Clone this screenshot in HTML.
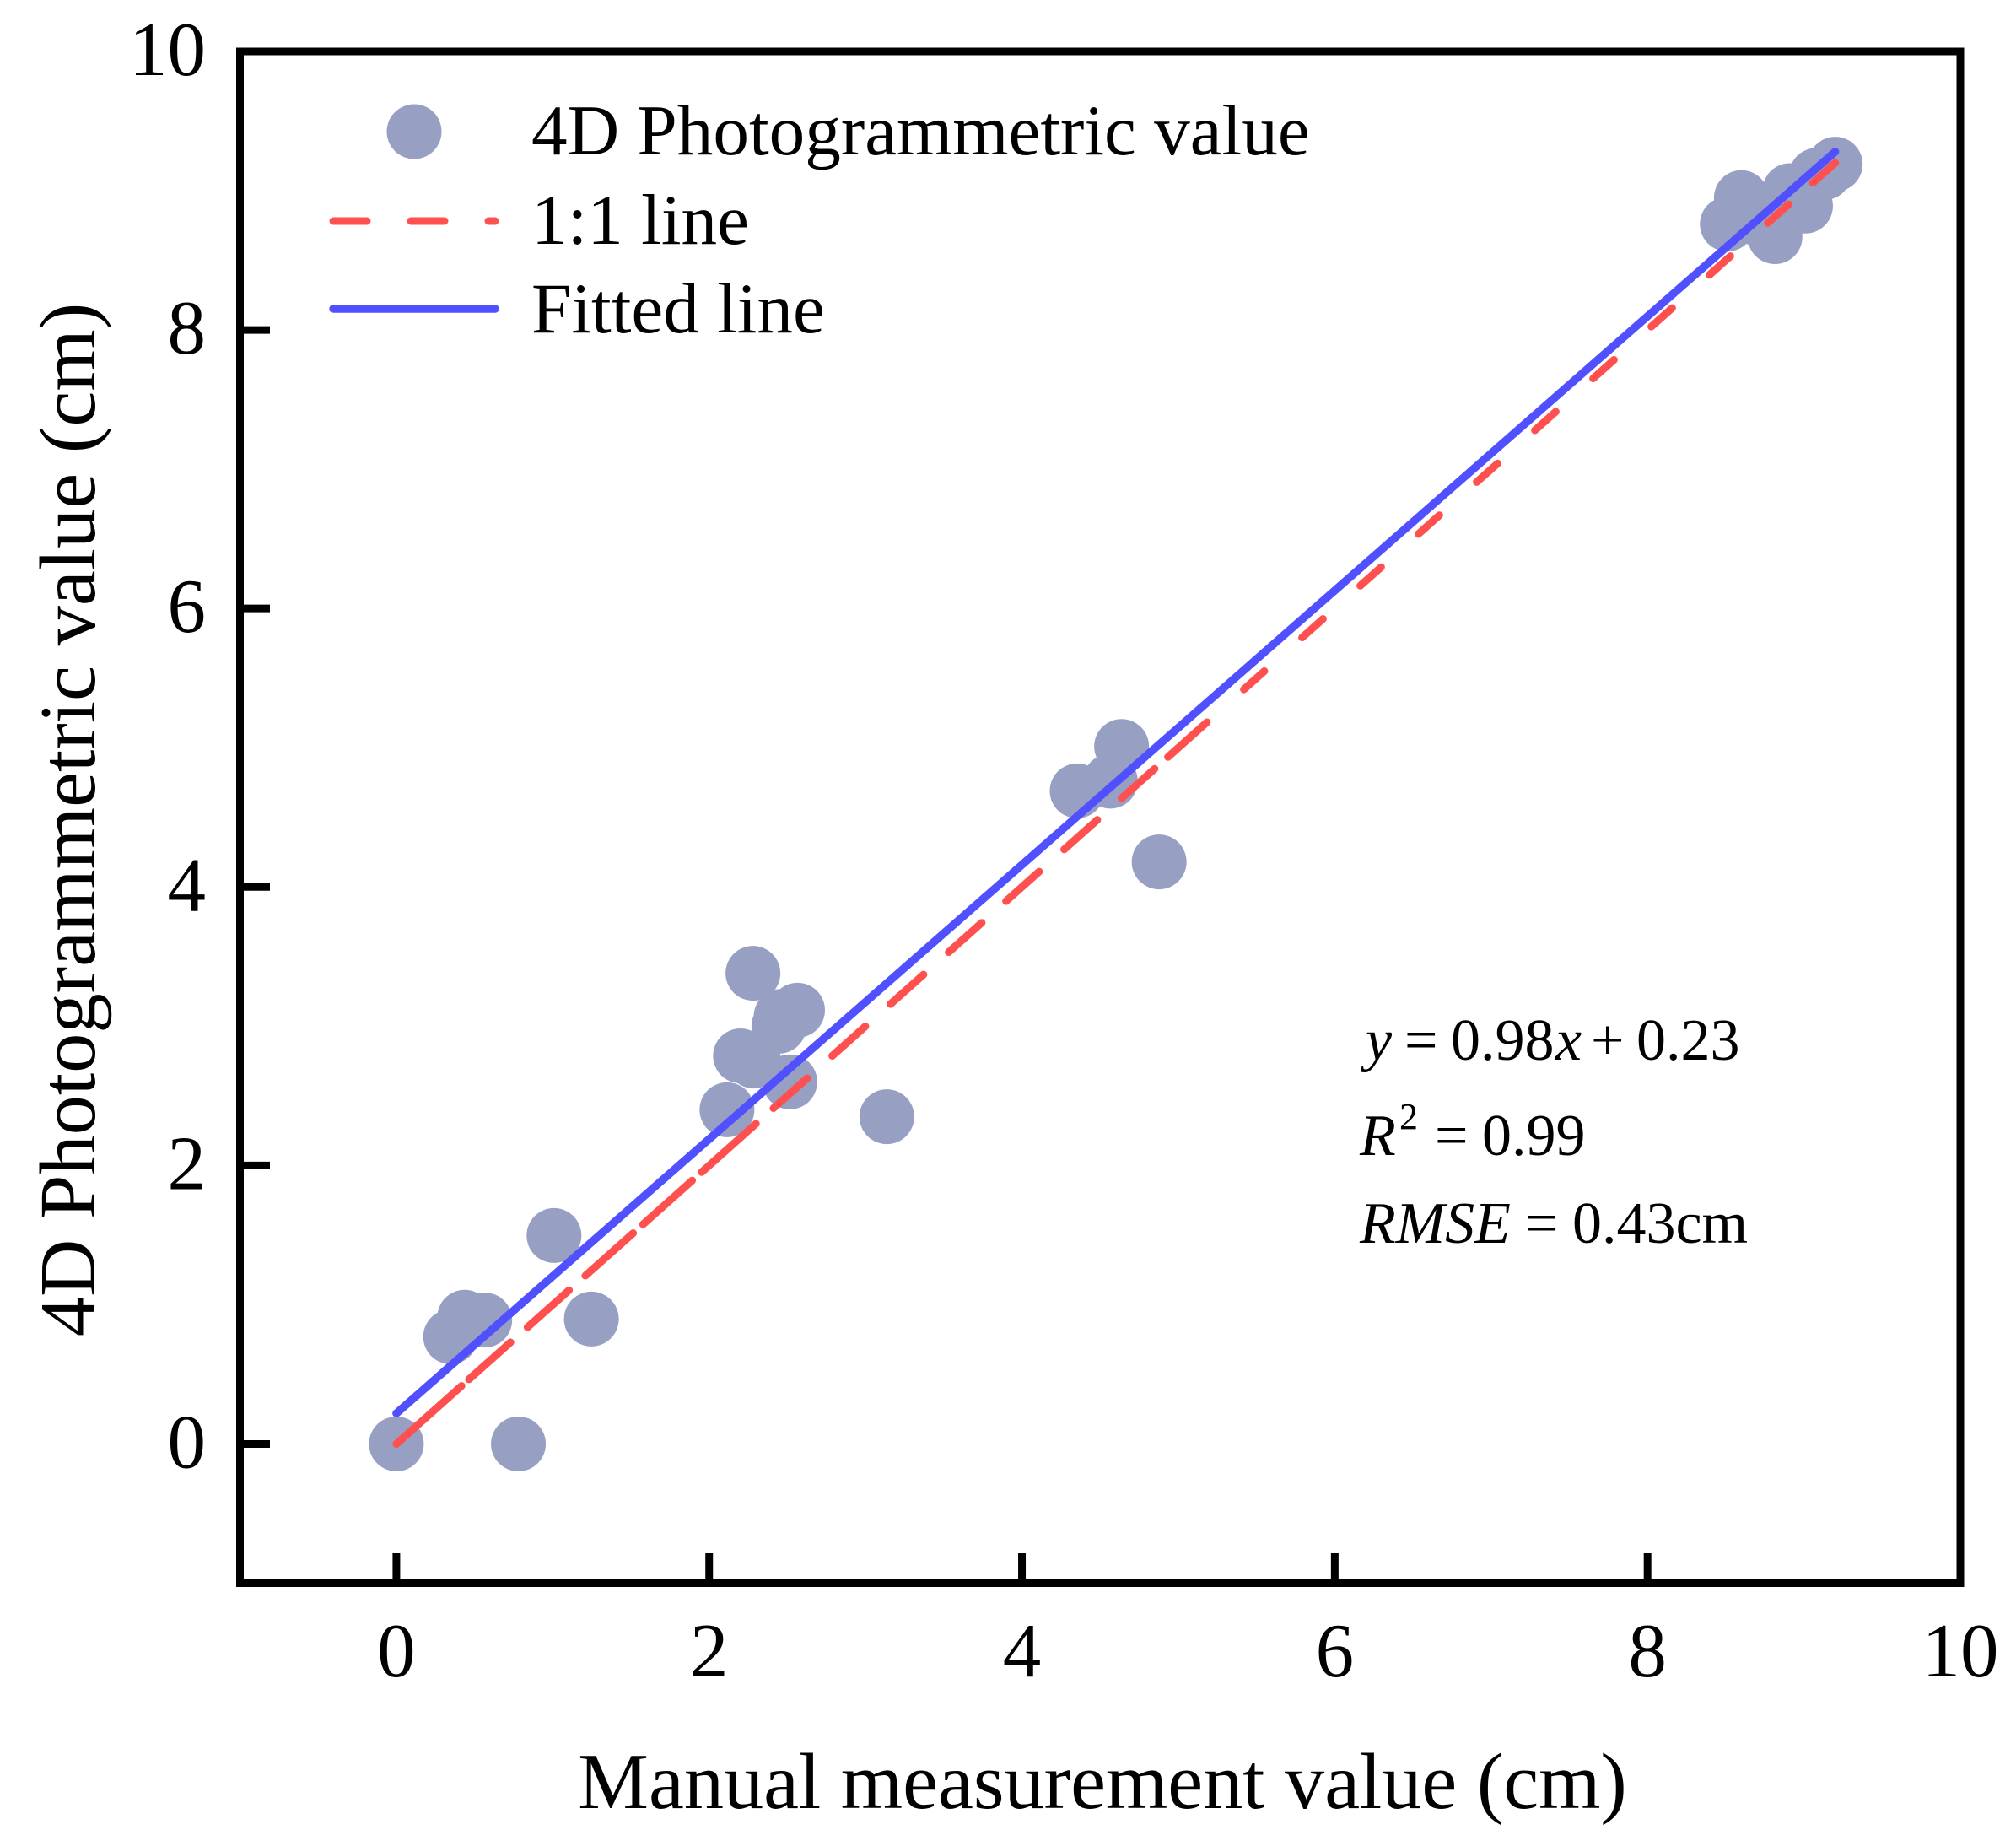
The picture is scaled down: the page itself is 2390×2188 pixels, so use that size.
<!DOCTYPE html>
<html lang="en">
<head>
<meta charset="utf-8">
<title>Manual vs 4D Photogrammetric value</title>
<style>
html,body{margin:0;padding:0;background:#fff;}
svg{display:block;}
text{font-family:"Liberation Serif","Times New Roman",serif;fill:#000;}
</style>
</head>
<body>
<svg id="chart" xmlns="http://www.w3.org/2000/svg" width="2390" height="2188" viewBox="0 0 2390 2188">
  <rect x="0" y="0" width="2390" height="2188" fill="#ffffff"/>
  <g id="points"></g>
  <g id="lines"></g>
  <g id="ticks"></g>
  <rect id="frame" fill="none" stroke="#000" stroke-width="9"/>
  <g id="tick-labels"></g>
  <text x="1307" y="2143" font-size="94.3" text-anchor="middle">Manual measurement value (cm)</text>
  <text transform="translate(112,971.5) rotate(-90)" font-size="94.5" text-anchor="middle">4D Photogrammetric value (cm)</text>
  <g>
    <circle cx="491" cy="156" r="32.5" fill="#979FC3"/>
    <text x="630" y="183" font-size="85.2">4D Photogrammetric value</text>
    <line x1="395" y1="262" x2="587" y2="262" stroke="#FF5050" stroke-width="9" stroke-linecap="round" stroke-dasharray="40 52"/>
    <text x="630" y="289" font-size="85.2">1:1 line</text>
    <line x1="395" y1="366" x2="587" y2="366" stroke="#5050FF" stroke-width="9.5" stroke-linecap="round"/>
    <text x="630" y="394" font-size="85.2">Fitted line</text>
  </g>
  <g font-size="70">
    <text y="1256"><tspan x="1619" font-style="italic">y</tspan><tspan x="1665">=</tspan><tspan x="1720">0.98</tspan><tspan x="1844" font-style="italic">x</tspan><tspan x="1886">+</tspan><tspan x="1940">0.23</tspan></text>
    <text y="1369"><tspan x="1612" font-style="italic">R</tspan><tspan x="1659" y="1338" font-size="44">2</tspan><tspan x="1701" y="1369">=</tspan><tspan x="1757">0.99</tspan></text>
    <text y="1473"><tspan x="1612" font-style="italic">RMSE</tspan><tspan x="1808">=</tspan><tspan x="1864">0.43cm</tspan></text>
  </g>
</svg>
<script>
const xTicks = [0, 2, 4, 6, 8, 10];
const yTicks = [0, 2, 4, 6, 8, 10];
const xDomain = [-1, 10];
const yDomain = [-1, 10];
const pointsX = [0, 0.78, 1.247, 0.347, 0.437, 0.565, 1.008, 2.114, 2.516, 3.136, 2.2, 2.285, 2.28, 2.565, 2.446, 2.46, 4.637, 4.353, 4.565, 4.877, 9.2, 9.13, 9.08, 9.01, 8.91, 8.815, 8.6, 8.51, 8.7];
const pointsY = [0, 0, 0.897, 0.77, 0.91, 0.89, 1.497, 2.4, 2.6, 2.35, 2.787, 2.75, 3.38, 3.115, 3.0, 3.07, 5.009, 4.69, 4.76, 4.18, 9.19, 9.13, 9.11, 8.89, 9.0, 8.67, 8.95, 8.76, 8.8];
const identityX = [0, 9.2];
const identityY = [0, 9.2];
const fittedX = [0, 9.2];
const fittedY = [0.22, 9.28];

const NS = 'http://www.w3.org/2000/svg';
const plotLeft = 284.5;
const plotRight = 2324;
const plotTop = 61;
const plotBottom = 1876.5;
function xScale(v) { return plotLeft + (v - xDomain[0]) / (xDomain[1] - xDomain[0]) * (plotRight - plotLeft); }
function yScale(v) { return plotBottom - (v - yDomain[0]) / (yDomain[1] - yDomain[0]) * (plotBottom - plotTop); }
function make(tag, attrs, parent) {
  const el = document.createElementNS(NS, tag);
  for (const k in attrs) el.setAttribute(k, attrs[k]);
  parent.appendChild(el);
  return el;
}

const frame = document.getElementById('frame');
frame.setAttribute('x', plotLeft);
frame.setAttribute('y', plotTop);
frame.setAttribute('width', plotRight - plotLeft);
frame.setAttribute('height', plotBottom - plotTop);

const pointsG = document.getElementById('points');
pointsX.forEach(function (px, i) {
  const c = make('circle', { cx: xScale(px), cy: yScale(pointsY[i]), r: 32.5, fill: '#979FC3' }, pointsG);
  
  
});

/* Irregular dash rhythm of the 1:1 line (style only): visible run, then gap, measured horizontally. */
const dashRuns = [84, 2, 56, 13.4, 56, 12.6, 63.4, 5, 65, 4.6, 71, 14, 46.7, 23, 46, 23, 46, 23, 46, 22, 46, 23, 46, 22, 46, 9, 53, 37, 31, 38, 31.5, 37.5, 31.5, 37.5, 31.5, 37.5, 31.5, 37.5, 31.5, 37.5, 31.5, 37.5, 31.5, 37.5, 31.5, 37.5, 31.5, 22, 46, 24, 40];
const alongPerX = Math.hypot(xScale(1) - xScale(0), yScale(0) - yScale(1)) / (xScale(1) - xScale(0));
const redWidth = 9;
const dashArray = dashRuns.map(function (run, i) {
  return i % 2 === 0 ? Math.max(0.1, run * alongPerX - redWidth) : run * alongPerX + redWidth;
}).join(' ');

const linesG = document.getElementById('lines');
const fitted = make('line', { x1: xScale(fittedX[0]), y1: yScale(fittedY[0]), x2: xScale(fittedX[1]), y2: yScale(fittedY[1]), stroke: '#5050FF', 'stroke-width': 9.5, 'stroke-linecap': 'round' }, linesG);


const identity = make('line', { x1: xScale(identityX[0]), y1: yScale(identityY[0]), x2: xScale(identityX[1]), y2: yScale(identityY[1]), stroke: '#FF5050', 'stroke-width': redWidth, 'stroke-linecap': 'round', 'stroke-dasharray': dashArray }, linesG);



const ticksG = document.getElementById('ticks');
const labelsG = document.getElementById('tick-labels');
const tickLen = 35.5;
xTicks.forEach(function (t) {
  const x = xScale(t);
  const tick = make('line', { x1: x, x2: x, y1: plotBottom, y2: plotBottom - tickLen, stroke: '#000', 'stroke-width': 9 }, ticksG);
  
  
  const label = make('text', { x: x, y: 1987, 'font-size': 91, 'text-anchor': 'middle' }, labelsG);
  label.textContent = String(t);
  
  
});
yTicks.forEach(function (t) {
  const y = yScale(t);
  const tick = make('line', { x1: plotLeft, x2: plotLeft + tickLen, y1: y, y2: y, stroke: '#000', 'stroke-width': 9 }, ticksG);
  
  
  const label = make('text', { x: 244, y: y + 28, 'font-size': 91, 'text-anchor': 'end' }, labelsG);
  label.textContent = String(t);
  
  
});
</script>
</body>
</html>
